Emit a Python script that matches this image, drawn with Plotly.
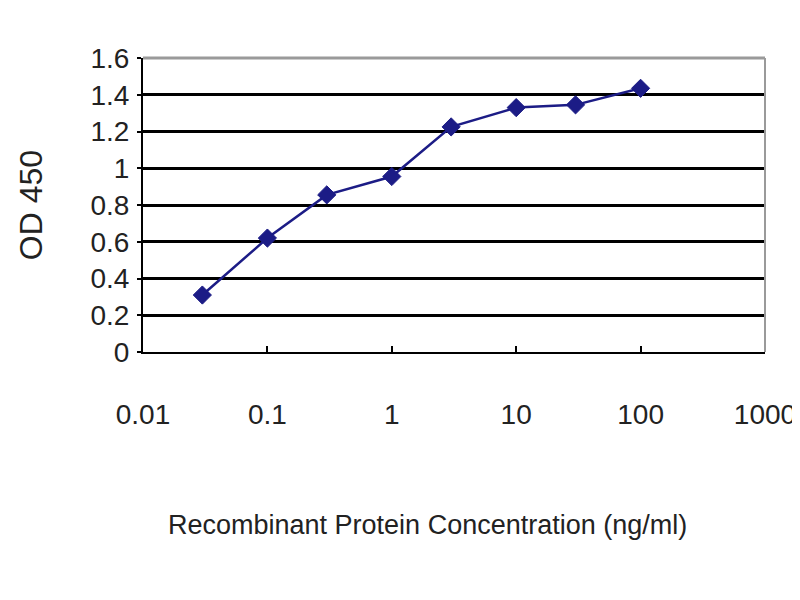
import plotly.graph_objects as go

# concentration (ng/ml) and OD 450
concentration = [0.03, 0.1, 0.3, 1, 3, 10, 30, 100]
od_450 = [0.31, 0.62, 0.855, 0.955, 1.225, 1.33, 1.345, 1.435]

x_ticks = [0.01, 0.1, 1, 10, 100, 1000]
x_tick_labels = ["0.01", "0.1", "1", "10", "100", "1000"]
y_ticks = [0, 0.2, 0.4, 0.6, 0.8, 1, 1.2, 1.4, 1.6]
y_tick_labels = ["0", "0.2", "0.4", "0.6", "0.8", "1", "1.2", "1.4", "1.6"]

navy = "#1c1c86"
font_name = "Liberation Sans, Arial, sans-serif"

fig = go.Figure()
fig.add_trace(go.Scatter(
    x=concentration, y=od_450, mode="lines+markers",
    line=dict(color=navy, width=2.5),
    marker=dict(symbol="diamond", size=14, color=navy, line=dict(color=navy, width=1)),
    showlegend=False,
))

fig.update_layout(
    width=800, height=600,
    margin=dict(l=135, r=43, t=50, b=256),
    paper_bgcolor="white", plot_bgcolor="white",
    font=dict(family=font_name, color="#222222", size=28),
    xaxis=dict(
        type="log", range=[-2, 3],
        tickvals=x_ticks, ticktext=x_tick_labels,
        ticks="inside", ticklen=6, tickwidth=2, tickcolor="black",
        showline=True, linecolor="black", linewidth=2,
        showgrid=False, zeroline=False,
        ticklabelstandoff=36,
    ),
    yaxis=dict(
        range=[0, 1.6],
        tickvals=y_ticks, ticktext=y_tick_labels,
        ticks="outside", ticklen=4, tickwidth=2, tickcolor="black",
        showline=True, linecolor="black", linewidth=2,
        showgrid=True, gridcolor="black", gridwidth=2.5,
        zeroline=False, ticklabelstandoff=2,
        title=dict(text="OD 450", standoff=38, font=dict(size=32)),
    ),
    annotations=[
        dict(text="Recombinant Protein Concentration (ng/ml)", xref="paper", yref="paper",
             x=0.458, y=0, yshift=-173, xanchor="center", yanchor="middle",
             showarrow=False, font=dict(size=27)),
    ],
    shapes=[
        dict(type="line", xref="paper", yref="paper", x0=0, x1=1, y0=1, y1=1,
             line=dict(color="#9a9a9a", width=3), layer="above"),
        dict(type="line", xref="paper", yref="paper", x0=1, x1=1, y0=0, y1=1,
             line=dict(color="#9a9a9a", width=2), layer="above"),
    ],
)

fig.write_html("out.html")
